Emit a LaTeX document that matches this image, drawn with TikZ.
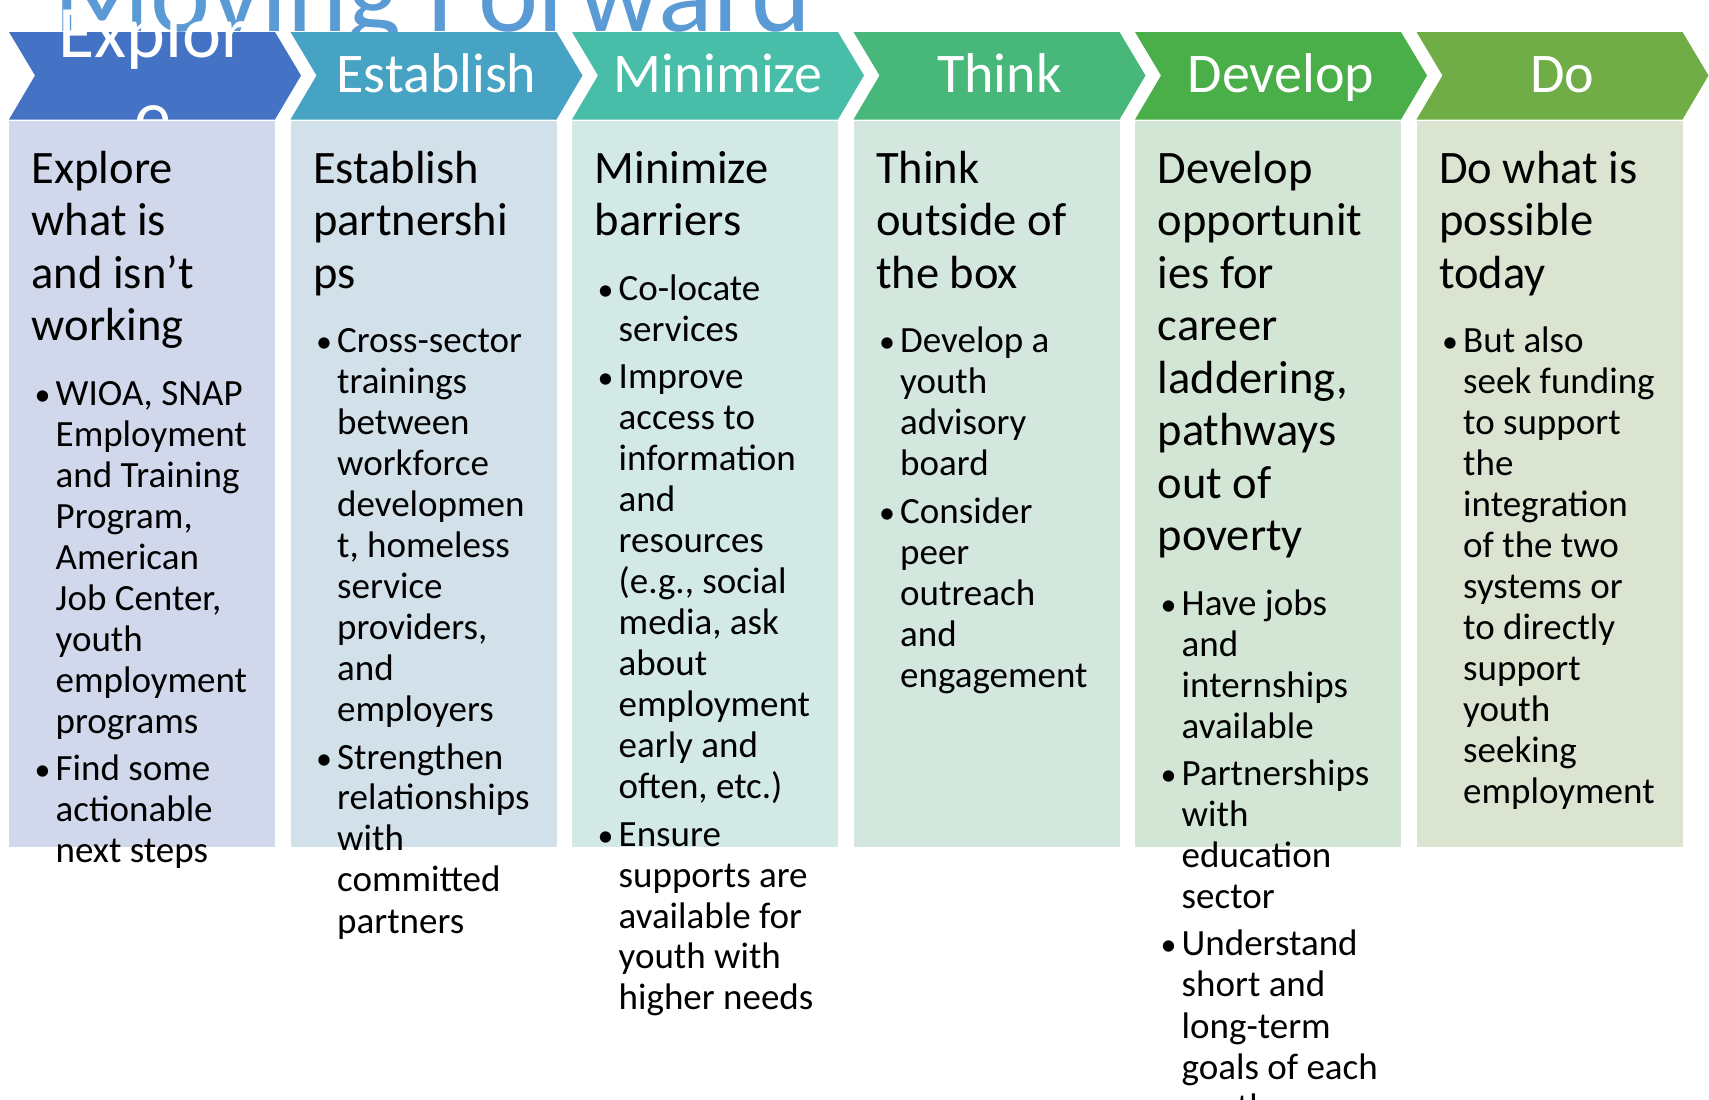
\documentclass[tikz,border=0pt]{standalone}
\usepackage{fontspec}
\setmainfont{Carlito}
\definecolor{titleblue}{HTML}{5B9BD5}
\definecolor{cA}{HTML}{4472C4}
\definecolor{cB}{HTML}{46A3C3}
\definecolor{cC}{HTML}{48BEA8}
\definecolor{cD}{HTML}{48B87A}
\definecolor{cE}{HTML}{4AAF48}
\definecolor{cF}{HTML}{70AD47}
\definecolor{bA}{HTML}{D2D8EC}
\definecolor{bB}{HTML}{D2E1E9}
\definecolor{bC}{HTML}{D2E9E5}
\definecolor{bD}{HTML}{D3E7DE}
\definecolor{bE}{HTML}{D3E6D5}
\definecolor{bF}{HTML}{DAE4D0}
\newcommand\colhead{\fontsize{46.5}{52.5}\selectfont}
\newcommand\colbody{\fontsize{37}{41}\selectfont}
\newcommand\bl[1]{\hbox{\hbox to 24pt{\hskip 3pt{\fontsize{32}{32}\selectfont•}\hfil}#1}}
\newcommand\cl[1]{\hbox{\hskip 24pt #1}}
\newcommand\fgap{\baselineskip=64.5pt\relax}
\newcommand\pgap{\baselineskip=47.5pt\relax}
\newcommand\lgap{\baselineskip=41pt\relax}
\newcommand\chevshape[2]{\fill[#2] (#1,32) -- ++(266,0) -- ++(26,43.5) -- ++(-26,44) -- ++(-266,0) -- ++(26,-44) -- cycle;}
\lineskiplimit=-1000pt
\tikzset{
  chevlabel/.style={anchor=base, inner sep=0, text=white, font=\fontsize{56}{60}\selectfont},
  coltext/.style={anchor=base west, inner sep=0, text=black}
}
\begin{document}
\begin{tikzpicture}[x=1pt,y=-1pt]
\useasboundingbox (0,0) rectangle (1709,1100);
\fill[white] (0,0) rectangle (1709,1100);
% title
\node[anchor=base west, inner sep=0, text=titleblue, font=\fontsize{114}{114}\selectfont] (title) at (53,31) {Moving Forward};
% chevrons
\chevshape{9}{cA}
\chevshape{290.5}{cB}
\chevshape{572}{cC}
\chevshape{853.5}{cD}
\chevshape{1135}{cE}
\chevshape{1416.5}{cF}
% chevron labels
\node[chevlabel, font=\fontsize{74}{74}\selectfont] (lab1a) at (153,57) {Explor};
\node[chevlabel, font=\fontsize{74}{74}\selectfont] (lab1b) at (153,141) {e};
\node[chevlabel] (lab2) at (436.5,92) {Establish};
\node[chevlabel] (lab3) at (718,92) {Minimize};
\node[chevlabel] (lab4) at (999.5,92) {Think};
\node[chevlabel] (lab5) at (1281,92) {Develop};
\node[chevlabel] (lab6) at (1562.5,92) {Do};
% boxes
\fill[bA] (9,120.5) rectangle ++(266,726.5);
\fill[bB] (290.5,120.5) rectangle ++(266,726.5);
\fill[bC] (572,120.5) rectangle ++(266,726.5);
\fill[bD] (853.5,120.5) rectangle ++(266,726.5);
\fill[bE] (1135,120.5) rectangle ++(266,726.5);
\fill[bF] (1416.5,120.5) rectangle ++(266,726.5);
% column texts
\node[coltext] (col1) at (31.5,183) {\vtop{\colhead
  \hbox{Explore}\hbox{what is}\hbox{and isn’t}\hbox{working}
  \colbody\fgap
  \bl{WIOA, SNAP}\lgap
  \cl{Employment}\cl{and Training}\cl{Program,}\cl{American}\cl{Job Center,}\cl{youth}\cl{employment}\cl{programs}
  \pgap\bl{Find some}\lgap
  \cl{actionable}\cl{next steps}}};
\node[coltext] (col2) at (313,183) {\vtop{\colhead
  \hbox{Establish}\hbox{partnershi}\hbox{ps}
  \colbody\fgap
  \bl{Cross-sector}\lgap
  \cl{trainings}\cl{between}\cl{workforce}\cl{developmen}\cl{t, homeless}\cl{service}\cl{providers,}\cl{and}\cl{employers}
  \pgap\bl{Strengthen}\lgap
  \cl{relationships}\cl{with}\cl{committed}\cl{partners}}};
\node[coltext] (col3) at (594.5,183) {\vtop{\colhead
  \hbox{Minimize}\hbox{barriers}
  \colbody\fgap
  \bl{Co-locate}\lgap
  \cl{services}
  \pgap\bl{Improve}\lgap
  \cl{access to}\cl{information}\cl{and}\cl{resources}\cl{(e.g., social}\cl{media, ask}\cl{about}\cl{employment}\cl{early and}\cl{often, etc.)}
  \pgap\bl{Ensure}\lgap
  \cl{supports are}\cl{available for}\cl{youth with}\cl{higher needs}}};
\node[coltext] (col4) at (876,183) {\vtop{\colhead
  \hbox{Think}\hbox{outside of}\hbox{the box}
  \colbody\fgap
  \bl{Develop a}\lgap
  \cl{youth}\cl{advisory}\cl{board}
  \pgap\bl{Consider}\lgap
  \cl{peer}\cl{outreach}\cl{and}\cl{engagement}}};
\node[coltext] (col5) at (1157.5,183) {\vtop{\colhead
  \hbox{Develop}\hbox{opportunit}\hbox{ies for}\hbox{career}\hbox{laddering,}\hbox{pathways}\hbox{out of}\hbox{poverty}
  \colbody\fgap
  \bl{Have jobs}\lgap
  \cl{and}\cl{internships}\cl{available}
  \pgap\bl{Partnerships}\lgap
  \cl{with}\cl{education}\cl{sector}
  \pgap\bl{Understand}\lgap
  \cl{short and}\cl{long-term}\cl{goals of each}\cl{youth}}};
\node[coltext] (col6) at (1439,183) {\vtop{\colhead
  \hbox{Do what is}\hbox{possible}\hbox{today}
  \colbody\fgap
  \bl{But also}\lgap
  \cl{seek funding}\cl{to support}\cl{the}\cl{integration}\cl{of the two}\cl{systems or}\cl{to directly}\cl{support}\cl{youth}\cl{seeking}\cl{employment}}};
\end{tikzpicture}
\end{document}
